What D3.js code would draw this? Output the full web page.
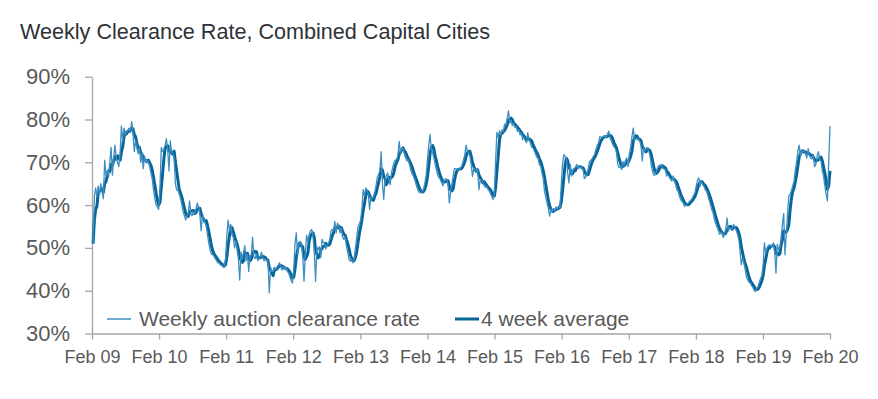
<!DOCTYPE html>
<html>
<head>
<meta charset="utf-8">
<script src="https://cdn.jsdelivr.net/npm/d3@7"></script>
<style>
  body { margin: 0; background: #fff; }
  svg { display: block; font-family: "Liberation Sans", Arial, sans-serif; }
</style>
</head>
<body>
<svg id="chart" width="878" height="399"></svg>
<script>
// weekly auction clearance rate (%), one array per year starting in February
var rate2009 = [51, 62, 64, 62, 64.5, 62.5, 65, 63, 61.5, 70.5, 67, 68, 66.5, 70, 73.5, 67, 71, 74, 71, 70, 69, 72, 78.5, 75, 78, 76.5,
  77, 77.5, 78, 77, 79.5, 77, 72.5, 75, 73.5, 72, 73.5, 70, 72, 68.5, 71.5, 70, 70.5, 70, 69, 67.5, 66, 63.5, 61.5, 60, 59.5, 59];
var rate2010 = [64, 73.5, 72.5, 73, 74, 75.5, 73, 68, 75, 72.5, 72, 71, 65, 63.5, 63.5, 62.5, 61.5, 60, 58.5, 57.5, 56.5, 57.5, 58, 61, 58, 57.5,
  58.5, 58, 59, 60.5, 59.5, 58, 54, 57.5, 57, 56, 55, 53, 51, 49.5, 48.5, 48.5, 48, 47.5, 47, 46.5, 46.5, 46, 46, 45.5, 45.5, 47.5];
var rate2011 = [53, 56.5, 54, 55.5, 53, 52.5, 50, 51.5, 49.5, 47.5, 42.5, 49, 47.5, 49, 50.5, 47, 48.5, 44.5, 48, 48.5, 52.5, 48, 47.5, 48.5, 47, 47.5,
  48, 49, 47.5, 47, 47.5, 47, 47, 39.5, 45.5, 44.5, 44.5, 45.5, 45, 45.5, 46, 46.5, 45.5, 44.8, 45.7, 44.9, 45.5, 44.5, 44.2, 43.3, 42.4, 41.8];
var rate2012 = [45, 51, 53.5, 48.5, 51.2, 51.5, 50.5, 48, 42.2, 48.5, 53, 51.5, 53, 54, 54.3, 52.7, 48.8, 42.2, 50.2, 49.5, 50.3, 47.7, 52, 51.2, 51.2, 49.8,
  50.5, 51, 52, 54, 54.3, 54, 56.2, 53.5, 55.8, 55, 53.5, 54.7, 52.5, 52, 52.7, 50.4, 49, 47.3, 46.9, 47.3, 46.5, 47.5, 50, 52.5, 55, 55.5];
var rate2013 = [56.5, 59, 63.6, 62.1, 64, 63.5, 62.5, 59, 62, 61.5, 62, 63, 64.5, 66.5, 67.2, 68, 72.5, 65, 61.3, 66, 66.8, 67.5, 66, 64.8, 67.5, 68.8,
  70, 70.5, 70.6, 71.5, 74.9, 72.2, 73.4, 73, 72, 71, 70.3, 70.6, 69.5, 68.2, 67.3, 66.8, 66, 65, 64, 63.2, 62.9, 62.9, 63.2, 63.8, 65.2, 67];
var rate2014 = [70.5, 74, 76.5, 73, 72.2, 71, 69.5, 68.3, 67, 66.4, 66, 65.2, 64.5, 65.8, 66.2, 66, 64.8, 60.5, 63, 65, 66.8, 68.5, 68.5, 68.3, 68.3, 68.6,
  68.7, 69.4, 70.6, 71.6, 74, 72.6, 72.2, 71.5, 69.5, 66.7, 68.6, 68.3, 67.9, 68.3, 63.6, 65.9, 66, 65.5, 64.5, 64.2, 64.4, 63.7, 63.3, 62.7, 62, 61.3];
var rate2015 = [62.5, 70.5, 77, 75.8, 77.4, 76.3, 77.6, 77.2, 78.9, 78.6, 80.3, 82, 79.2, 79.8, 78.6, 79.1, 78.1, 78.3, 77.2, 77.6, 76.4, 76.9, 75.3, 75.9, 75.1, 74.6,
  76.9, 75.1, 74.6, 73.5, 73.4, 72.7, 72, 71.2, 70.9, 69.4, 69.2, 67.5, 66.3, 63.2, 61.9, 60.4, 59.3, 57.4, 59.1, 58.4, 59.2, 58.6, 59.6, 59, 59.8, 59.4];
var rate2016 = [64.5, 69.5, 71.8, 71.4, 71, 67.5, 65.2, 69.5, 66.8, 68, 68.6, 68.8, 69.5, 68.5, 69, 68.9, 68.6, 68.3, 66.2, 66.5, 67.3, 68.5, 70.2, 70.5, 70.8, 71.4,
  71.8, 73, 74, 74.5, 76, 75.8, 75.8, 76.1, 76.1, 75.8, 76.5, 77.3, 75.6, 75, 74.2, 73.6, 73.3, 72.2, 69.5, 68.8, 69, 68.3, 70.2, 69.3, 70.5, 71];
var rate2017 = [69, 72, 73.5, 76, 78, 75.3, 75.4, 75.7, 75.4, 75, 74.2, 70.3, 73.5, 72.6, 73.3, 73.2, 72.8, 71.6, 69.4, 67.8, 67, 67, 67.9, 68.8, 69.3, 69.2,
  69.5, 68.5, 68.5, 68.2, 66.8, 67.1, 66.6, 66, 65.6, 66.8, 65.5, 64.8, 63.5, 63.2, 62, 61.2, 60.8, 60.4, 59.7, 60, 60.3, 60.5, 60.9, 61.2, 61.7, 62.3];
var rate2018 = [62.9, 64.5, 65.8, 66.4, 64.4, 65.6, 64.8, 64.4, 63.6, 63.2, 62.3, 61.2, 60.2, 59, 58.3, 56.8, 55.8, 55, 54.3, 53.2, 53.5, 53.7, 52.4, 53.3, 54.5, 57,
  53.9, 54.6, 54.4, 54.6, 55.5, 54.7, 54.2, 53.3, 52.2, 49.6, 46.1, 47.6, 46.6, 45, 43.2, 42.5, 42, 41.8, 41.2, 40.8, 40.1, 39.8, 40.4, 41, 42, 42.8];
var rate2019 = [43.5, 46, 51.2, 48.8, 49.8, 50.5, 50.7, 50.4, 50.4, 51.2, 49, 44.1, 50.8, 49.6, 50, 52.5, 55.5, 58, 48.4, 53, 58, 62.2, 62.5, 63.4, 64.5, 65.5,
  68.2, 70, 72.5, 74, 71.5, 72.6, 72.6, 72.6, 72, 71, 73.2, 71.6, 71, 70.8, 71.8, 69, 69.5, 71.5, 72.5, 70.5, 70.4, 68, 66.7, 64.6, 62.5, 61, 70, 78.5];

var tickYears = [2009, 2010, 2011, 2012, 2013, 2014, 2015, 2016, 2017, 2018, 2019, 2020];
var yTicks = [30, 40, 50, 60, 70, 80, 90];
var seriesNames = ['Weekly auction clearance rate', '4 week average'];
var chartTitle = 'Weekly Clearance Rate, Combined Capital Cities';

var weekly = [].concat(rate2009, rate2010, rate2011, rate2012, rate2013, rate2014,
  rate2015, rate2016, rate2017, rate2018, rate2019);

// first auction weekend 7 Feb 2009, then every 7 days
var points = weekly.map(function (v, i) {
  return { date: new Date(2009, 1, 7 + 7 * i), value: v };
});

// trailing 4 week average
var avgPoints = points.map(function (p, i) {
  var win = weekly.slice(Math.max(0, i - 3), i + 1);
  return { date: p.date, value: d3.mean(win) };
});

var colThin = '#3d8ec0';
var colThick = '#08659a';
var textCol = '#595959';
var axisCol = '#a6a6a6';

var svg = d3.select('#chart');

var x = d3.scaleTime()
  .domain([new Date(2009, 1, 1), new Date(2020, 1, 1)])
  .range([92, 830]);
var y = d3.scaleLinear().domain([30, 90]).range([333.5, 76.7]);

svg.append('text')
  .attr('x', 20).attr('y', 39)
  .attr('font-size', 21.6).attr('fill', '#2e3238')
  .text(chartTitle);

// y axis
var yAxis = svg.append('g')
  .attr('transform', 'translate(92,0)')
  .call(d3.axisLeft(y).tickValues(yTicks).tickSize(7).tickSizeOuter(0).tickPadding(15)
    .tickFormat(function (d) { return d + '%'; }));
yAxis.selectAll('path, line').attr('stroke', axisCol).attr('stroke-width', 1.3);
yAxis.selectAll('text').attr('font-size', 22).attr('fill', textCol)
  .attr('font-family', '"Liberation Sans", Arial, sans-serif');

// x axis
var xAxis = svg.append('g')
  .attr('transform', 'translate(0,333.5)')
  .call(d3.axisBottom(x)
    .tickValues(tickYears.map(function (yr) { return new Date(yr, 1, 1); }))
    .tickSize(6).tickSizeOuter(0).tickPadding(11)
    .tickFormat(function (d) { return 'Feb ' + String(d.getFullYear()).slice(2); }));
xAxis.selectAll('path, line').attr('stroke', axisCol).attr('stroke-width', 1.3);
xAxis.selectAll('text').attr('font-size', 18).attr('fill', textCol)
  .attr('font-family', '"Liberation Sans", Arial, sans-serif');

var line = d3.line()
  .x(function (d) { return x(d.date); })
  .y(function (d) { return y(d.value); });

svg.append('path').datum(avgPoints)
  .attr('d', line).attr('fill', 'none')
  .attr('stroke', colThick).attr('stroke-width', 3).attr('stroke-linejoin', 'round');

svg.append('path').datum(points)
  .attr('d', line).attr('fill', 'none')
  .attr('stroke', colThin).attr('stroke-width', 1.3).attr('stroke-linejoin', 'round');

// legend
var legend = [
  { name: seriesNames[0], x1: 107, x2: 131, tx: 139, col: colThin, w: 1.5 },
  { name: seriesNames[1], x1: 455, x2: 479, tx: 481, col: colThick, w: 3 }
];
legend.forEach(function (l) {
  svg.append('line')
    .attr('x1', l.x1).attr('x2', l.x2).attr('y1', 319).attr('y2', 319)
    .attr('stroke', l.col).attr('stroke-width', l.w);
  svg.append('text')
    .attr('x', l.tx).attr('y', 326)
    .attr('font-size', 21).attr('fill', textCol)
    .text(l.name);
});
</script>
</body>
</html>
